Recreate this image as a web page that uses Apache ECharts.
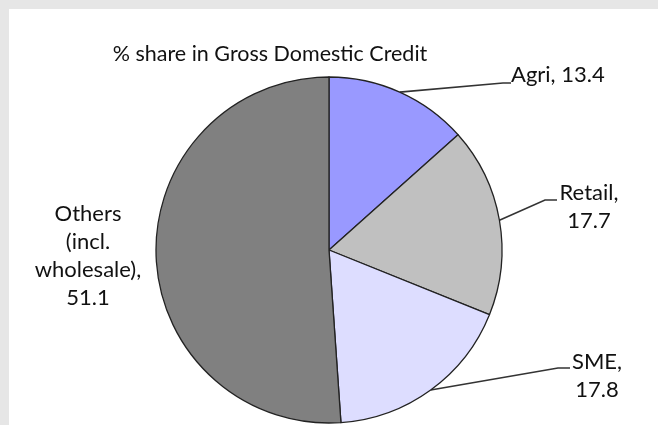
<!DOCTYPE html>
<html><head><meta charset="utf-8">
<script src="https://cdn.jsdelivr.net/npm/echarts@6/dist/echarts.min.js"></script>
<style>html,body{margin:0;padding:0;background:#e6e6e6}#c{width:658px;height:425px}</style>
</head><body><div id="c"></div>
<script>
const titleText = '% share in Gross Domestic Credit';
const categories = ['Agri', 'Retail', 'SME', 'Others (incl. wholesale)'];
const values = [13.4, 17.7, 17.8, 51.1];
const labelTexts = ['Agri, 13.4', 'Retail,\n17.7', 'SME,\n17.8', 'Others\n(incl.\nwholesale),\n51.1'];
const colors = ['#9999ff', '#c0c0c0', '#ddddff', '#808080'];

// label anchor positions (text placement only)
const labelPos = [
  {x: 511, y: 75, align: 'left', end: [[503, 83], [511, 83]]},
  {x: 589, y: 207, align: 'center', end: [[545, 200], [557, 200]]},
  {x: 597, y: 376, align: 'center', end: [[558, 368], [570, 368]]},
  {x: 88, y: 256, align: 'center', end: null}
];

const FONT = 'Lato';
const chart = echarts.init(document.getElementById('c'), null, {renderer: 'canvas'});
chart.setOption({
  backgroundColor: '#e6e6e6',
  animation: false,
  graphic: [{type: 'rect', shape: {x: 9, y: 9, width: 660, height: 430}, style: {fill: '#ffffff'}, z: -10}],
  title: {text: titleText, left: 265, top: 38, textAlign: 'center',
    textStyle: {fontFamily: FONT, fontSize: 21.5, fontWeight: 'normal', color: '#111'}},
  series: [{
    type: 'pie',
    center: [329, 250],
    radius: 173,
    startAngle: 90,
    clockwise: true,
    data: categories.map((c, i) => ({name: c, value: values[i], itemStyle: {color: colors[i]},
      labelLine: {show: i < 3}})),
    itemStyle: {borderColor: '#222', borderWidth: 1.3},
    label: {show: true, position: 'outside', fontFamily: FONT, fontSize: 22, color: '#111', lineHeight: 28,
      overflow: 'none', edgeDistance: 0, bleedMargin: 0,
      formatter: p => labelTexts[p.dataIndex]},
    labelLine: {show: true, length: 30, length2: 10, lineStyle: {color: '#333', width: 1.6}},
    labelLayout: function (p) {
      const lp = labelPos[p.dataIndex];
      const r = {x: lp.x, y: lp.y, align: lp.align, verticalAlign: 'middle'};
      if (lp.end && p.labelLinePoints) {
        r.labelLinePoints = [p.labelLinePoints[0], lp.end[0], lp.end[1]];
      }
      return r;
    },
    emphasis: {disabled: true}
  }]
});
</script></body></html>
